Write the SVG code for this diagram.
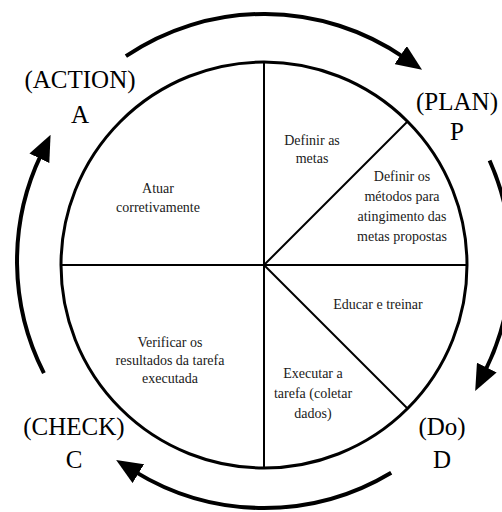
<svg xmlns="http://www.w3.org/2000/svg" width="502" height="512" viewBox="0 0 502 512">
  <style>
    .big { font-family: "Liberation Serif", "Times New Roman", serif; font-size: 25px; fill: #000; text-anchor: middle; }
    .small { font-family: "Liberation Serif", "Times New Roman", serif; font-size: 14px; fill: #1a1a1a; text-anchor: middle; }
    .rim { fill: none; stroke: #000; stroke-width: 3; }
    .div { fill: none; stroke: #000; stroke-width: 2; }
    .arc { fill: none; stroke: #000; stroke-width: 4; marker-end: url(#head); }
  </style>
  <defs>
    <marker id="head" markerUnits="userSpaceOnUse" viewBox="0 0 26 22" markerWidth="26" markerHeight="22" refX="4" refY="11" orient="auto">
      <path d="M0,0 L26,11 L0,22 z" fill="#000"/>
    </marker>
  </defs>
  <rect width="502" height="512" fill="#fff"/>

  <g id="connectors">
    <path class="arc" d="M125.9,56.2 A247,247 0 0 1 403.9,57.4"/>
    <path class="arc" d="M489.6,160.5 A247,247 0 0 1 485.0,371.2"/>
    <path class="arc" d="M391.2,472.7 A247,247 0 0 1 134.9,471.6"/>
    <path class="arc" d="M43.9,373.1 A247,247 0 0 1 41.1,154.7"/>
  </g>

  <g id="wheel">
    <circle class="rim" cx="264" cy="265" r="203"/>
    <line class="div" x1="61" y1="265" x2="467" y2="265"/>
    <line class="div" x1="264" y1="62" x2="264" y2="468"/>
    <line class="div" x1="264" y1="265" x2="407.5" y2="121.5"/>
    <line class="div" x1="264" y1="265" x2="407.5" y2="408.5"/>
  </g>

  <g id="seg-definir-metas">
    <text class="small" x="312" y="145">Definir as</text>
    <text class="small" x="312" y="163">metas</text>
  </g>
  <g id="seg-definir-metodos">
    <text class="small" x="402" y="181">Definir os</text>
    <text class="small" x="402" y="201">métodos para</text>
    <text class="small" x="402" y="221">atingimento das</text>
    <text class="small" x="402" y="241">metas propostas</text>
  </g>
  <g id="seg-educar">
    <text class="small" x="378" y="309">Educar e treinar</text>
  </g>
  <g id="seg-executar">
    <text class="small" x="313" y="378">Executar a</text>
    <text class="small" x="313" y="398">tarefa (coletar</text>
    <text class="small" x="313" y="418">dados)</text>
  </g>
  <g id="seg-verificar">
    <text class="small" x="170" y="347">Verificar os</text>
    <text class="small" x="170" y="365">resultados da tarefa</text>
    <text class="small" x="170" y="383">executada</text>
  </g>
  <g id="seg-atuar">
    <text class="small" x="158" y="193">Atuar</text>
    <text class="small" x="158" y="212">corretivamente</text>
  </g>

  <g id="label-action">
    <text class="big" x="80" y="88">(ACTION)</text>
    <text class="big" x="80" y="123">A</text>
  </g>
  <g id="label-plan">
    <text class="big" x="457" y="110">(PLAN)</text>
    <text class="big" x="457" y="140">P</text>
  </g>
  <g id="label-do">
    <text class="big" x="442" y="435">(Do)</text>
    <text class="big" x="442" y="468">D</text>
  </g>
  <g id="label-check">
    <text class="big" x="74" y="435">(CHECK)</text>
    <text class="big" x="74" y="468">C</text>
  </g>
</svg>
